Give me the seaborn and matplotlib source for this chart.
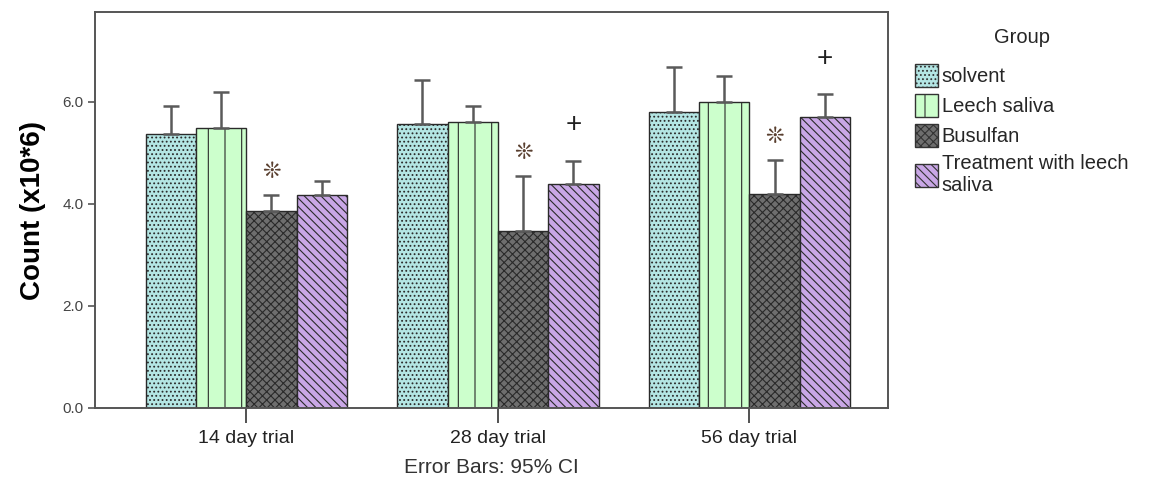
import numpy as np
import pandas as pd
import matplotlib
matplotlib.use("Agg")
import matplotlib.pyplot as plt
import seaborn as sns
from matplotlib.patches import Patch

# data
trials = ["14 day trial", "28 day trial", "56 day trial"]
groups = ["solvent", "Leech saliva", "Busulfan", "Treatment with leech\nsaliva"]
solvent = [5.38, 5.57, 5.80]
leech = [5.48, 5.60, 5.99]
busulfan = [3.87, 3.47, 4.20]
treatment = [4.18, 4.40, 5.70]
# upper end of the 95% CI
solvent_hi = [5.92, 6.44, 6.68]
leech_hi = [6.20, 5.93, 6.50]
busulfan_hi = [4.18, 4.54, 4.86]
treatment_hi = [4.45, 4.84, 6.15]

means = [solvent, leech, busulfan, treatment]
highs = [solvent_hi, leech_hi, busulfan_hi, treatment_hi]

rows = []
for g, m, h in zip(groups, means, highs):
    for t, v, hv in zip(trials, m, h):
        rows.append({"Trial": t, "Group": g, "Count": v, "Hi": hv})
df = pd.DataFrame(rows)

colors = ["#b4e6e4", "#ccffcc", "#6e6e6e", "#c9a7e6"]
hatches = ["....", "|", "xxxx", "\\\\\\\\"]

sns.set_style("white")
plt.rcParams["font.family"] = ["Liberation Sans", "DejaVu Sans"]
plt.rcParams["hatch.linewidth"] = 0.8

fig = plt.figure(figsize=(11.76, 4.88), dpi=100)
ax = fig.add_axes([0.081, 0.164, 0.674, 0.811])

sns.barplot(data=df, x="Trial", y="Count", hue="Group", hue_order=groups,
            order=trials, palette=colors, errorbar=None, width=0.8,
            saturation=1, ax=ax, legend=False)

bar_containers = list(ax.containers)
for i, cont in enumerate(bar_containers):
    sub = df[df["Group"] == groups[i]].set_index("Trial").loc[trials]
    xs = []
    for bar in cont:
        bar.set_hatch(hatches[i])
        bar.set_edgecolor("#2a2a2a")
        bar.set_linewidth(1.0)
        xs.append(bar.get_x() + bar.get_width() / 2)
    xs = np.array(xs)
    up = sub["Hi"].values - sub["Count"].values
    ax.errorbar(xs, sub["Count"].values, yerr=[np.zeros(3), up], fmt="none",
                ecolor="#5a5a5a", elinewidth=1.8, capsize=6, capthick=1.8)
    if groups[i] == "Busulfan":
        for x, hv in zip(xs, sub["Hi"].values):
            ax.text(x, hv + 0.45, "\u274a", ha="center", va="center",
                    fontsize=16, color="#5a4030", family=["DejaVu Sans"])
    if groups[i].startswith("Treatment"):
        for x, hv in zip(xs[1:], sub["Hi"].values[1:]):
            ax.text(x, hv + 0.7, "+", ha="center", va="center",
                    fontsize=20, color="#222222")

ax.set_xlim(-0.6, 2.55)
ax.set_ylim(0, 7.76)
ax.set_yticks([0, 2, 4, 6])
ax.set_yticklabels(["0.0", "2.0", "4.0", "6.0"], fontsize=11, color="#444444")
ax.tick_params(axis="x", labelsize=14, length=11, width=1.2, direction="out",
               color="#333333", labelcolor="#222222", pad=5)
ax.tick_params(axis="y", length=5, width=1.2, direction="out", color="#555555")
ax.xaxis.set_ticks_position("bottom")
ax.yaxis.set_ticks_position("left")
for s in ax.spines.values():
    s.set_color("#555555")
    s.set_linewidth(1.4)
ax.set_ylabel("Count (x10*6)", fontsize=20, fontweight="bold", labelpad=12,
              color="black")
ax.set_xlabel("Error Bars: 95% CI", fontsize=15, color="#333333", labelpad=8)

handles = [Patch(facecolor=c, edgecolor="#333333", hatch=h, label=g)
           for c, h, g in zip(colors, hatches, groups)]
leg = fig.legend(handles=handles, title="Group", loc="upper left",
                 bbox_to_anchor=(0.763, 0.98), frameon=False, fontsize=14.5,
                 title_fontsize=14.5, handlelength=1.1, handleheight=1.4,
                 handletextpad=0.2, labelspacing=0.35, alignment="center")
leg._legend_box.sep = 12

fig.savefig("out.png", dpi=100)
